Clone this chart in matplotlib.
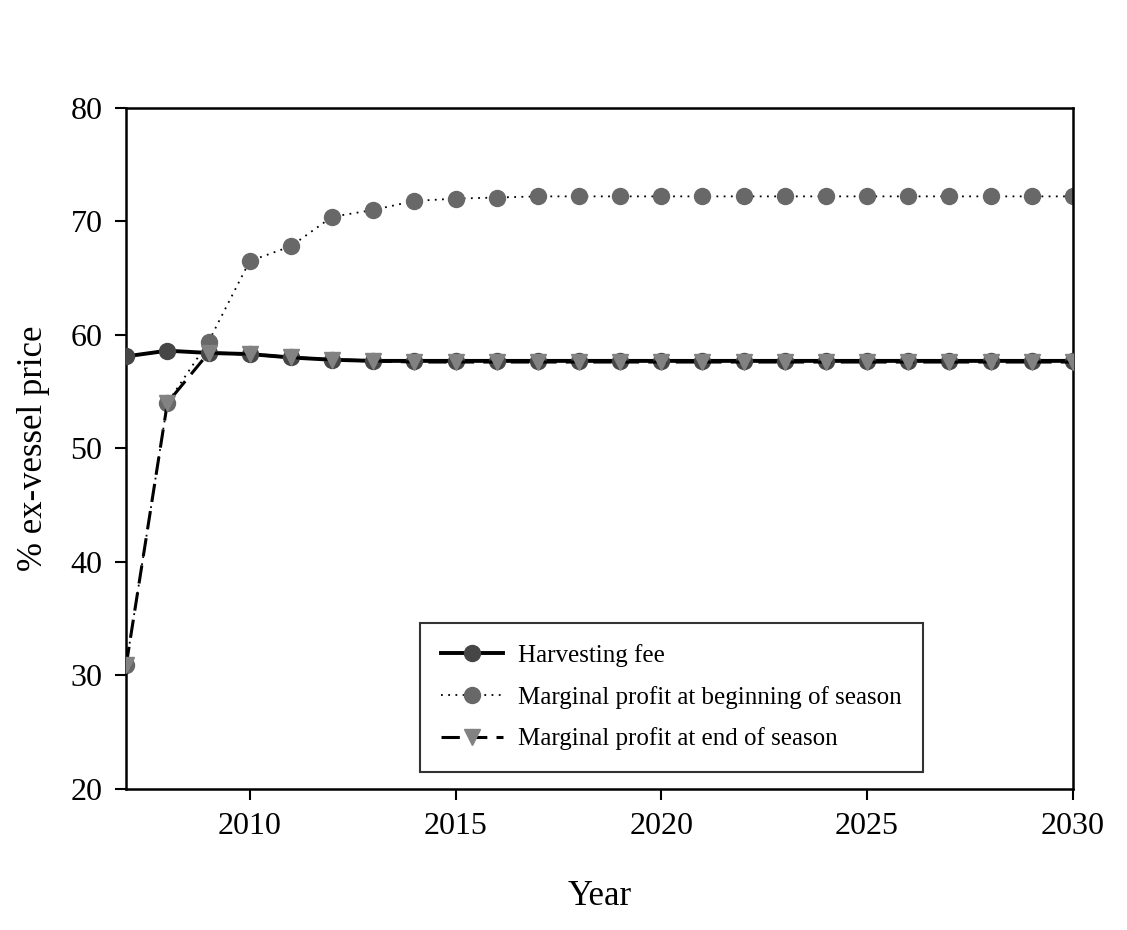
import numpy as np
import matplotlib
matplotlib.use("Agg")
import matplotlib.pyplot as plt

years = np.arange(2007, 2031)

# harvesting fee (% of ex-vessel price)
harvesting_fee = [58.1, 58.6, 58.4, 58.3, 58.0, 57.8, 57.7, 57.7, 57.7, 57.7, 57.7, 57.7,
                  57.7, 57.7, 57.7, 57.7, 57.7, 57.7, 57.7, 57.7, 57.7, 57.7, 57.7, 57.7]
profit_begin = [30.9, 54.0, 59.4, 66.5, 67.8, 70.4, 71.0, 71.8, 72.0, 72.1, 72.2, 72.2,
                72.2, 72.2, 72.2, 72.2, 72.2, 72.2, 72.2, 72.2, 72.2, 72.2, 72.2, 72.2]
profit_end = [30.9, 54.0, 58.4, 58.3, 58.0, 57.8, 57.7, 57.6, 57.6, 57.6, 57.6, 57.6,
              57.6, 57.6, 57.6, 57.6, 57.6, 57.6, 57.6, 57.6, 57.6, 57.6, 57.6, 57.6]

plt.rcParams['font.family'] = ['Liberation Serif', 'DejaVu Serif']

fig = plt.figure(figsize=(11.27, 9.3), dpi=100)
ax = fig.add_axes([0.112, 0.152, 0.840, 0.732])

ax.plot(years, harvesting_fee, color='black', lw=2.8, ls='-',
        marker='o', ms=11.5, mfc='#464646', mec='#464646', label='Harvesting fee', zorder=3)
ax.plot(years, profit_begin, color='black', lw=1.3, ls=(0, (1, 3)),
        marker='o', ms=11.5, mfc='#686868', mec='#686868',
        label='Marginal profit at beginning of season', zorder=2)
ax.plot(years, profit_end, color='black', lw=2.2, ls=(0, (6, 3)),
        marker='v', ms=12, mfc='#828282', mec='#828282',
        label='Marginal profit at end of season', zorder=4)

ax.set_xlim(2007, 2030)
ax.set_ylim(20, 80)
ax.set_xticks(np.arange(2010, 2031, 5))
ax.set_yticks(np.arange(20, 81, 10))
ax.tick_params(direction='out', length=8, width=1.5, labelsize=23, pad=9)
for s in ax.spines.values():
    s.set_linewidth(1.8)

ax.set_xlabel('Year', fontsize=25, labelpad=28)
ax.set_ylabel('% ex-vessel price', fontsize=25, labelpad=15)

leg = ax.legend(loc='lower left', bbox_to_anchor=(0.31, 0.025), fontsize=18,
                frameon=True, fancybox=False, edgecolor='black', borderpad=0.85,
                handlelength=2.5, handletextpad=0.6, labelspacing=0.75,
                borderaxespad=0)
leg.get_frame().set_linewidth(1.5)

fig.savefig('out.png', dpi=100)
